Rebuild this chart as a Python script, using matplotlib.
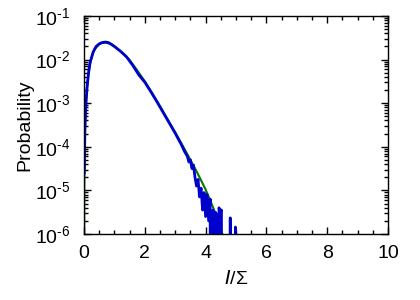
import numpy as np
import matplotlib
matplotlib.use("Agg")
from matplotlib import pyplot as plt
from matplotlib.ticker import LogLocator, MultipleLocator, NullFormatter, FuncFormatter

plt.rcParams['font.family'] = ['Liberation Sans', 'DejaVu Sans']
plt.rcParams['mathtext.default'] = 'regular'

# theoretical curve (green), x and log10(probability)
fit_x = [0.0, 0.01, 0.02, 0.035, 0.05, 0.07, 0.09, 0.13, 0.18, 0.22, 0.3, 0.35, 0.5, 0.6,
         0.71, 0.85, 1.0, 1.25, 1.5, 1.75, 2.0, 2.25, 2.5, 2.75, 3.0, 3.25, 3.5, 3.75,
         4.0, 4.25, 4.5, 4.65]
fit_log = [-7.0, -4.9, -4.1, -3.55, -3.2, -2.92, -2.70, -2.43, -2.18, -2.03, -1.84, -1.76,
           -1.65, -1.62, -1.61, -1.64, -1.70, -1.84, -2.01, -2.25, -2.50, -2.78, -3.07,
           -3.37, -3.67, -3.98, -4.30, -4.63, -4.98, -5.40, -5.90, -6.2]

# measured histogram (blue), log10(probability); None = empty bin
hist_x = [0.01, 0.03, 0.05, 0.07, 0.1, 0.15, 0.2, 0.3, 0.4, 0.5, 0.6, 0.7, 0.8, 0.9,
          1.0, 1.2, 1.4, 1.6, 1.8, 2.0, 2.2, 2.4, 2.6, 2.8, 3.0, 3.1, 3.2, 3.3, 3.4,
          3.45, 3.5, 3.55, 3.6, 3.65, 3.7, 3.75, 3.8, 3.85, 3.9, 3.95, 4.0, 4.05, 4.1,
          4.15, 4.2, 4.24, 4.28, 4.32, 4.36, 4.4, 4.44, 4.48, 4.52, 4.56, 4.6, 4.7,
          4.78, 4.81, 4.84, 4.9, 4.95, 4.98, 5.01, 5.1]
hist_log = [-4.6, -3.6, -3.2, -2.95, -2.65, -2.30, -2.07, -1.83, -1.70, -1.64, -1.61,
            -1.60, -1.61, -1.65, -1.70, -1.81, -1.94, -2.13, -2.35, -2.52, -2.74, -2.97,
            -3.21, -3.45, -3.69, -3.82, -3.95, -4.10, -4.22, -4.35, -4.30, -4.50, -4.42,
            -4.70, -4.90, -4.75, -5.15, -4.95, -5.45, -5.05, -5.60, -5.10, -5.70, -5.20,
            None, -5.45, None, -5.50, -5.55, None, -5.40, -5.50, -5.45, None, None, None,
            None, -5.63, None, None, None, -5.84, None, None]

fit_y = 10.0 ** np.array(fit_log)
hist_y = np.array([0.0 if v is None else 10.0 ** v for v in hist_log])

fig = plt.figure(figsize=(4.2, 3.0), dpi=100)
ax = fig.add_axes([0.2, 0.22, 0.724, 0.727])

ax.plot(fit_x, fit_y, color='#007a00', lw=1.5)
ax.plot(hist_x, hist_y, color='#0000cc', lw=2.0)

ax.set_yscale('log', nonpositive='clip')
ax.set_xlim(0, 10)
ax.set_ylim(1e-6, 1e-1)

ax.xaxis.set_major_locator(MultipleLocator(2))
ax.xaxis.set_minor_locator(MultipleLocator(0.5))
ax.yaxis.set_major_locator(LogLocator(base=10, numticks=10))
ax.yaxis.set_minor_locator(LogLocator(base=10, subs=np.arange(2, 10), numticks=10))
ax.yaxis.set_minor_formatter(NullFormatter())
# short hyphen in the exponent, like the original
ax.yaxis.set_major_formatter(FuncFormatter(
    lambda v, p: '10$^{\u2010%d}$' % round(-np.log10(v))))

ax.tick_params(which='both', direction='in', top=True, right=True, labelsize=14)
ax.tick_params(which='major', length=5, width=1)
ax.tick_params(which='minor', length=3, width=1)
ax.tick_params(axis='y', which='major', pad=10)
ax.tick_params(axis='x', which='major', pad=8)
for s in ax.spines.values():
    s.set_linewidth(1.0)

ax.set_xlabel(r'$\it{I}$/Σ', fontsize=14, labelpad=6)
ax.set_ylabel('Probability', fontsize=14)
ax.yaxis.set_label_coords(-0.165, 0.5)

fig.savefig('out.png', dpi=100)
